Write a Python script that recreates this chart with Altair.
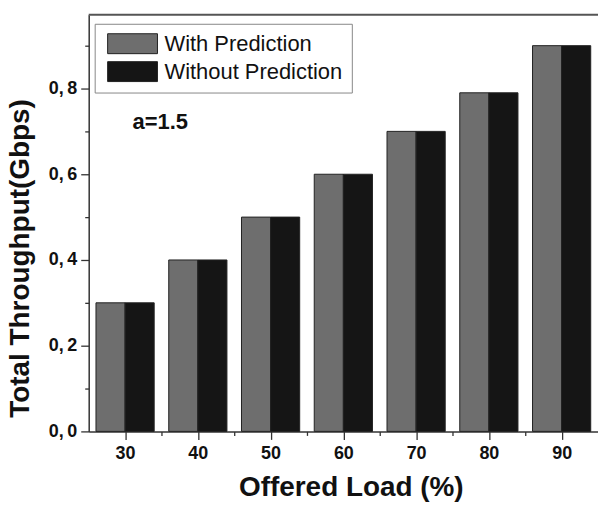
import altair as alt
import pandas as pd

loads = [30, 40, 50, 60, 70, 80, 90]
with_pred = [0.30, 0.40, 0.50, 0.60, 0.70, 0.79, 0.90]
without_pred = [0.30, 0.40, 0.50, 0.60, 0.70, 0.79, 0.90]
series = ["With Prediction", "Without Prediction"]

rows = []
for l, a, b in zip(loads, with_pred, without_pred):
    rows.append({"load": l, "value": a, "series": series[0], "side": -1})
    rows.append({"load": l, "value": b, "series": series[1], "side": 0})
df = pd.DataFrame(rows)

FONT = "Liberation Sans"

bars = alt.Chart(df).transform_calculate(
    x0="datum.load + 4*datum.side",
    x1="datum.load + 4*datum.side + 4",
).mark_rect(stroke="#222222", strokeWidth=1).encode(
    x=alt.X("x0:Q", scale=alt.Scale(domain=[25, 95], nice=False, zero=False),
            axis=alt.Axis(
                values=[30, 35, 40, 45, 50, 55, 60, 65, 70, 75, 80, 85, 90],
                labelExpr="datum.value % 10 == 0 ? datum.label : ''",
                tickSize={"condition": {"test": "datum.value % 10 != 0", "value": 4}, "value": 8},
                title="Offered Load (%)", grid=False,
                domainColor="#333333", tickColor="#333333", domainWidth=1.5, tickWidth=1.3,
                labelFont=FONT, labelFontSize=18, labelFontWeight="bold", labelColor="#111111",
                labelPadding=5,
                titleFont=FONT, titleFontSize=28, titleFontWeight="bold", titleColor="#111111",
                titlePadding=11, titleX=263)),
    x2="x1:Q",
    y=alt.Y("value:Q", scale=alt.Scale(domain=[0, 0.972], nice=False),
            axis=alt.Axis(
                values=[0, 0.1, 0.2, 0.3, 0.4, 0.5, 0.6, 0.7, 0.8, 0.9],
                labelExpr="round(datum.value*10) % 2 == 0 ? replace(format(datum.value, '.1f'), '.', ',\u2009') : ''",
                tickSize={"condition": {"test": "round(datum.value*10) % 2 != 0", "value": 4}, "value": 8},
                title="Total Throughput(Gbps)", grid=False,
                domainColor="#333333", tickColor="#333333", domainWidth=1.5, tickWidth=1.3,
                labelFont=FONT, labelFontSize=18, labelFontWeight="bold", labelColor="#111111",
                labelPadding=4,
                titleFont=FONT, titleFontSize=28, titleFontWeight="bold", titleColor="#111111",
                titlePadding=14, titleY=244)),
    y2=alt.datum(0),
    fill=alt.Fill("series:N", scale=alt.Scale(domain=series, range=["#6e6e6e", "#151515"]),
                  legend=alt.Legend(
                      title=None, orient="none", legendX=6, legendY=9,
                      symbolType="M-2.5,-1H2.5V1H-2.5Z", symbolSize=400,
                      symbolStrokeColor="#222222", symbolStrokeWidth=1,
                      symbolOffset=18,
                      labelFont=FONT, labelFontSize=22, labelColor="#111111",
                      labelOffset=21, labelLimit=400, rowPadding=4,
                      fillColor="white", strokeColor="#888888",
                      padding=9)),
)

top = alt.Chart(pd.DataFrame({"a": [0]})).mark_rule(color="#555555", strokeWidth=2).encode(
    x=alt.value(0), x2=alt.value(520), y=alt.value(0))

label = alt.Chart(pd.DataFrame({"t": ["a=1.5"]})).mark_text(
    font=FONT, fontSize=22, fontWeight="bold", color="#111111", align="left", baseline="middle"
).encode(x=alt.value(44), y=alt.value(108), text="t:N")

chart = alt.layer(bars, top, label).properties(
    width=511, height=418,
    autosize=alt.AutoSizeParams(type="none"),
    padding={"left": 89, "top": 14, "right": 0, "bottom": 75},
).configure_view(stroke=None)

chart.save("out.html", embed_options={"renderer": "svg", "actions": False})
